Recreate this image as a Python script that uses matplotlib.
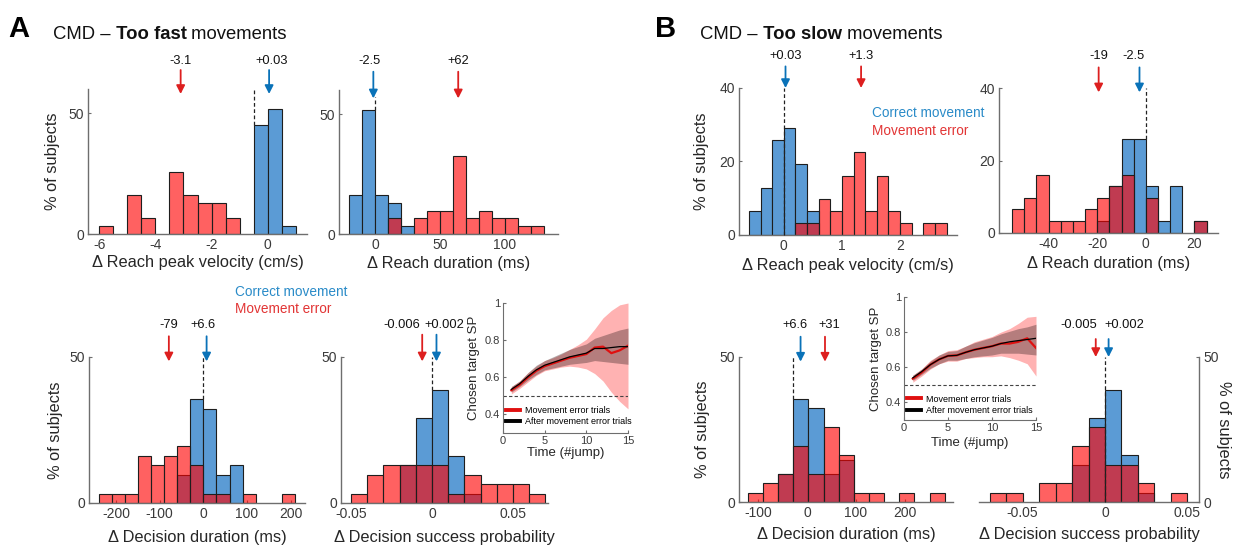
import matplotlib
matplotlib.use('Agg')
import matplotlib.pyplot as plt
from matplotlib.transforms import blended_transform_factory
from matplotlib.lines import Line2D

plt.rcParams['font.family'] = ['Liberation Sans', 'DejaVu Sans']
plt.rcParams['axes.unicode_minus'] = False

# ---------------- DATA (percent of subjects per bin) ----------------
# Panel A : too fast movements
a_vel_left = [-6.0, -5.5, -5.0, -4.5, -4.0, -3.5, -3.0, -2.5, -2.0, -1.5, -1.0, -0.5, 0.0, 0.5]
a_vel_blue = [0, 0, 0, 0, 0, 0, 0, 0, 0, 0, 0, 45.2, 51.6, 3.2]
a_vel_red = [3.2, 0, 16.1, 6.5, 0, 25.8, 16.1, 12.9, 12.9, 6.5, 0, 0, 0, 0]

a_dur_left = [-20, -10, 0, 10, 20, 30, 40, 50, 60, 70, 80, 90, 100, 110, 120]
a_dur_blue = [16.1, 51.6, 16.1, 12.9, 3.2, 0, 0, 0, 0, 0, 0, 0, 0, 0, 0]
a_dur_red = [0, 0, 0, 6.5, 0, 6.5, 9.7, 9.7, 32.3, 6.5, 9.7, 6.5, 6.5, 3.2, 3.2]

a_dec_left = [-240, -210, -180, -150, -120, -90, -60, -30, 0, 30, 60, 90, 120, 150, 180]
a_dec_blue = [0, 0, 0, 0, 0, 0, 9.7, 35.5, 32.3, 9.7, 12.9, 0, 0, 0, 0]
a_dec_red = [3.2, 3.2, 3.2, 16.1, 12.9, 16.1, 19.4, 12.9, 3.2, 3.2, 0, 3.2, 0, 0, 3.2]

a_sp_left = [-0.05, -0.04, -0.03, -0.02, -0.01, 0.0, 0.01, 0.02, 0.03, 0.04, 0.05, 0.06]
a_sp_blue = [0, 0, 0, 12.9, 29.0, 38.7, 16.1, 3.2, 0, 0, 0, 0]
a_sp_red = [3.2, 9.7, 12.9, 12.9, 12.9, 12.9, 3.2, 9.7, 6.5, 6.5, 6.5, 3.2]

# Panel B : too slow movements
b_vel_left = [-0.6, -0.4, -0.2, 0.0, 0.2, 0.4, 0.6, 0.8, 1.0, 1.2, 1.4, 1.6, 1.8, 2.0, 2.2, 2.4, 2.6]
b_vel_blue = [6.5, 12.9, 25.8, 29.0, 19.4, 6.5, 0, 0, 0, 0, 0, 0, 0, 0, 0, 0, 0]
b_vel_red = [0, 0, 0, 0, 3.2, 3.2, 9.7, 6.5, 16.1, 22.6, 6.5, 16.1, 6.5, 3.2, 0, 3.2, 3.2]

b_dur_left = [-55, -50, -45, -40, -35, -30, -25, -20, -15, -10, -5, 0, 5, 10, 15, 20]
b_dur_blue = [0, 0, 0, 0, 0, 0, 0, 3.2, 12.9, 25.8, 25.8, 12.9, 3.2, 12.9, 0, 3.2]
b_dur_red = [6.5, 9.7, 16.1, 3.2, 3.2, 3.2, 6.5, 9.7, 12.9, 16.1, 0, 9.7, 0, 0, 0, 3.2]

b_dec_left = [-121, -90, -59, -28, 3, 34, 65, 96, 127, 158, 189, 220, 251]
b_dec_blue = [0, 0, 9.7, 35.5, 32.3, 9.7, 14.5, 0, 0, 0, 0, 0, 0]
b_dec_red = [3.2, 6.5, 9.7, 19.4, 9.7, 25.8, 16.1, 3.2, 3.2, 0, 3.2, 0, 3.2]

b_sp_left = [-0.07, -0.06, -0.05, -0.04, -0.03, -0.02, -0.01, 0.0, 0.01, 0.02, 0.03, 0.04]
b_sp_blue = [0, 0, 0, 0, 0, 12.9, 29.0, 38.7, 16.1, 3.2, 0, 0]
b_sp_red = [3.2, 3.2, 0, 6.5, 6.5, 19.4, 25.8, 12.9, 12.9, 6.5, 0, 3.2]

# Insets: chosen target success probability over time
t_jump = [1, 2, 3, 4, 5, 6, 7, 8, 9, 10, 11, 12, 13, 14, 15]
a_err_mean = [0.53, 0.56, 0.60, 0.635, 0.66, 0.675, 0.69, 0.705, 0.715, 0.725, 0.76, 0.765, 0.73, 0.745, 0.77]
a_err_lo = [0.51, 0.54, 0.575, 0.61, 0.635, 0.645, 0.655, 0.66, 0.655, 0.645, 0.62, 0.58, 0.52, 0.47, 0.43]
a_err_hi = [0.55, 0.58, 0.625, 0.66, 0.69, 0.705, 0.725, 0.75, 0.775, 0.805, 0.86, 0.92, 0.96, 0.99, 1.0]
a_aft_mean = [0.535, 0.565, 0.605, 0.64, 0.665, 0.68, 0.695, 0.71, 0.72, 0.73, 0.755, 0.755, 0.76, 0.765, 0.765]
a_aft_lo = [0.52, 0.55, 0.585, 0.615, 0.64, 0.65, 0.66, 0.67, 0.675, 0.68, 0.69, 0.685, 0.68, 0.675, 0.67]
a_aft_hi = [0.55, 0.58, 0.625, 0.665, 0.69, 0.71, 0.73, 0.75, 0.765, 0.78, 0.81, 0.825, 0.84, 0.855, 0.865]

b_err_mean = [0.535, 0.57, 0.615, 0.645, 0.665, 0.668, 0.685, 0.70, 0.71, 0.72, 0.735, 0.735, 0.745, 0.765, 0.71]
b_err_lo = [0.515, 0.55, 0.59, 0.62, 0.635, 0.635, 0.65, 0.655, 0.66, 0.66, 0.665, 0.655, 0.64, 0.62, 0.55]
b_err_hi = [0.555, 0.59, 0.64, 0.67, 0.695, 0.70, 0.72, 0.745, 0.76, 0.775, 0.80, 0.82, 0.85, 0.885, 0.89]
b_aft_mean = [0.54, 0.575, 0.615, 0.645, 0.665, 0.668, 0.685, 0.70, 0.71, 0.72, 0.735, 0.745, 0.752, 0.758, 0.765]
b_aft_lo = [0.525, 0.56, 0.595, 0.62, 0.64, 0.64, 0.65, 0.66, 0.665, 0.67, 0.68, 0.68, 0.68, 0.675, 0.67]
b_aft_hi = [0.555, 0.59, 0.635, 0.67, 0.69, 0.695, 0.72, 0.74, 0.755, 0.77, 0.79, 0.805, 0.82, 0.83, 0.845]

# ---------------- STYLE ----------------
W, H = 1233, 549
BLUE = '#5B9BD5'
RED = (1.0, 0.0, 0.0, 0.62)
EDGE = '#1e1e1e'
ARROW_BLUE = '#0A72B8'
ARROW_RED = '#DD1F1F'
TXT = '#262626'
TICK = '#3a3a3a'
SPINE = '#6e6e6e'
LEG_BLUE = '#2A8BC8'
LEG_RED = '#E23535'

fig = plt.figure(figsize=(W / 100, H / 100), dpi=100)


def px_axes(l, r, t, b):
    return fig.add_axes([l / W, 1 - b / H, (r - l) / W, (b - t) / H])


def hist(ax, left, blue, red):
    width = round(left[1] - left[0], 6)
    for vals, fc in ((blue, BLUE), (red, RED)):
        xs = [l for l, v in zip(left, vals) if v > 0]
        hs = [v for v in vals if v > 0]
        ax.bar(xs, hs, width=width, align='edge', color=fc, edgecolor=EDGE, linewidth=0.8, zorder=2)


def style(ax, xlim, ylim, xticks, xticklabels, yticks, xlabel, ylabel=None,
          xlab_y=-0.2, ylab_x=-0.16, right=False):
    ax.set_xlim(*xlim)
    ax.set_ylim(*ylim)
    ax.set_xticks(xticks)
    ax.set_xticklabels(xticklabels)
    ax.set_yticks(yticks)
    for s in ax.spines.values():
        s.set_color(SPINE)
        s.set_linewidth(1.0)
    ax.spines['top'].set_visible(False)
    if right:
        ax.spines['left'].set_visible(False)
        ax.yaxis.tick_right()
        ax.yaxis.set_label_position('right')
    else:
        ax.spines['right'].set_visible(False)
    ax.tick_params(labelsize=10, direction='in', length=2.5, color=SPINE,
                   labelcolor=TICK, pad=3)
    ax.set_facecolor('none')
    ax.set_xlabel(xlabel, fontsize=11.8, color=TXT, va='center')
    ax.xaxis.set_label_coords(0.5, xlab_y)
    if ylabel:
        ax.set_ylabel(ylabel, fontsize=11.8, color=TXT, va='center',
                      rotation=(-90 if right else 90))
        ax.yaxis.set_label_coords(ylab_x, 0.5)


def arrows(ax, items, tip, top, lab):
    tr = blended_transform_factory(ax.transData, ax.transAxes)
    for x, col, label, dx in items:
        ax.annotate('', xy=(x, tip), xycoords=tr, xytext=(x, top), textcoords=tr,
                    arrowprops=dict(arrowstyle='-|>,head_length=0.55,head_width=0.28',
                                    color=col, lw=1.3, shrinkA=0, shrinkB=0,
                                    mutation_scale=9), annotation_clip=False)
        ax.annotate(label, xy=(x, lab), xycoords=tr, xytext=(dx * 0.72, 0),
                    textcoords='offset points', ha='center', va='center',
                    fontsize=9.3, color='#111111', annotation_clip=False)


def dashed(ax, x, y0, y1):
    ax.plot([x, x], [y0, y1], color='#222222', lw=0.9, ls=(0, (3, 2)), zorder=3, clip_on=False)


def inset(ax, err_mean, err_lo, err_hi, aft_mean, aft_lo, aft_hi, xlab_y, ylab_x, leg_y):
    ax.fill_between(t_jump, err_lo, err_hi, color=(1.0, 0.0, 0.0, 0.30), lw=0)
    ax.fill_between(t_jump, aft_lo, aft_hi, color=(0.2, 0.12, 0.12, 0.36), lw=0)
    ax.axhline(0.5, color='#444444', lw=0.8, ls=(0, (3, 2)))
    ax.plot(t_jump, err_mean, color='#E01010', lw=1.6)
    ax.plot(t_jump, aft_mean, color='black', lw=0.9)
    ax.set_xlim(0, 15)
    ax.set_ylim(0.3, 1.0)
    ax.set_xticks([0, 5, 10, 15])
    ax.set_yticks([0.4, 0.6, 0.8, 1.0])
    ax.set_yticklabels(['0.4', '0.6', '0.8', '1'])
    for s in ax.spines.values():
        s.set_color(SPINE)
    ax.spines['top'].set_visible(False)
    ax.spines['right'].set_visible(False)
    ax.tick_params(labelsize=8, direction='in', length=2, color=SPINE, labelcolor=TICK, pad=2)
    ax.set_facecolor('none')
    ax.set_xlabel('Time (#jump)', fontsize=9.5, color=TXT, va='center')
    ax.xaxis.set_label_coords(0.5, xlab_y)
    ax.set_ylabel('Chosen target SP', fontsize=9.5, color=TXT, va='center')
    ax.yaxis.set_label_coords(ylab_x, 0.5)
    handles = [Line2D([], [], color='#E01010', lw=2.8), Line2D([], [], color='black', lw=2.8)]
    ax.legend(handles, ['Movement error trials', 'After movement error trials'],
              loc='lower left', bbox_to_anchor=(0.0, leg_y), frameon=False,
              fontsize=6.5, handlelength=1.6, handletextpad=0.5, labelspacing=0.25,
              borderpad=0.1, borderaxespad=0.2)


# ---------------- PANEL A ----------------
ax = px_axes(88, 307, 89, 234)
hist(ax, a_vel_left, a_vel_blue, a_vel_red)
style(ax, (-6.4, 1.4), (0, 60), [-6, -4, -2, 0], ['-6', '-4', '-2', '0'], [0, 50],
      'Δ Reach peak velocity (cm/s)', '% of subjects', xlab_y=-0.198, ylab_x=-0.16)
dashed(ax, -0.5, 45.2, 60)
arrows(ax, [(-3.1, ARROW_RED, '-3.1', 0), (0.05, ARROW_BLUE, '+0.03', 2.4)], 0.966, 1.131, 1.195)

ax = px_axes(339, 558, 90, 234)
hist(ax, a_dur_left, a_dur_blue, a_dur_red)
style(ax, (-28, 141), (0, 60), [0, 50, 100], ['0', '50', '100'], [0, 50],
      'Δ Reach duration (ms)', None, xlab_y=-0.208)
dashed(ax, 0, 51.6, 57)
arrows(ax, [(-1.5, ARROW_BLUE, '-2.5', -4), (64, ARROW_RED, '+62', 0)], 0.942, 1.127, 1.204)

ax = px_axes(89, 305, 357, 503)
hist(ax, a_dec_left, a_dec_blue, a_dec_red)
style(ax, (-262, 233), (0, 50), [-200, -100, 0, 100, 200], ['-200', '-100', '0', '100', '200'],
      [0, 50], 'Δ Decision duration (ms)', '% of subjects', xlab_y=-0.234, ylab_x=-0.157)
dashed(ax, 0, 35.5, 50)
arrows(ax, [(-79, ARROW_RED, '-79', 0), (7.5, ARROW_BLUE, '+6.6', -3.4)], 0.97, 1.142, 1.218)
fig.text(235 / W, 1 - 291.7 / H, 'Correct movement', color=LEG_BLUE, fontsize=9.8, va='center')
fig.text(235 / W, 1 - 309 / H, 'Movement error', color=LEG_RED, fontsize=9.8, va='center')

ax = px_axes(341, 548, 357, 503)
hist(ax, a_sp_left, a_sp_blue, a_sp_red)
style(ax, (-0.0561, 0.0716), (0, 50), [-0.05, 0, 0.05], ['-0.05', '0', '0.05'], [0, 50],
      'Δ Decision success probability', None, xlab_y=-0.234)
dashed(ax, 0, 38.7, 50)
arrows(ax, [(-0.006, ARROW_RED, '-0.006', -20.6), (0.0028, ARROW_BLUE, '+0.002', 8.3)],
       0.97, 1.153, 1.218)

ax = px_axes(503, 628, 303, 433)
inset(ax, a_err_mean, a_err_lo, a_err_hi, a_aft_mean, a_aft_lo, a_aft_hi, -0.154, -0.235, 0.03)

# ---------------- PANEL B ----------------
ax = px_axes(739, 957, 88, 235)
hist(ax, b_vel_left, b_vel_blue, b_vel_red)
style(ax, (-0.77, 2.98), (0, 40), [0, 1, 2], ['0', '1', '2'], [0, 20, 40],
      'Δ Reach peak velocity (cm/s)', '% of subjects', xlab_y=-0.205, ylab_x=-0.17)
dashed(ax, 0, 0, 40)
arrows(ax, [(0.03, ARROW_BLUE, '+0.03', 0), (1.33, ARROW_RED, '+1.3', 0)], 1.0, 1.147, 1.22)
fig.text(872 / W, 1 - 112.7 / H, 'Correct movement', color=LEG_BLUE, fontsize=9.8, va='center')
fig.text(872 / W, 1 - 130.7 / H, 'Movement error', color=LEG_RED, fontsize=9.8, va='center')

ax = px_axes(999, 1218, 88, 233)
hist(ax, b_dur_left, b_dur_blue, b_dur_red)
style(ax, (-60.4, 29.7), (0, 40), [-40, -20, 0, 20], ['-40', '-20', '0', '20'], [0, 20, 40],
      'Δ Reach duration (ms)', None, xlab_y=-0.21)
dashed(ax, 0, 25.8, 40)
arrows(ax, [(-19.4, ARROW_RED, '-19', 0), (-2.6, ARROW_BLUE, '-2.5', -6)], 0.97, 1.142, 1.223)

ax = px_axes(739, 953, 357, 502)
hist(ax, b_dec_left, b_dec_blue, b_dec_red)
style(ax, (-139, 299), (0, 50), [-100, 0, 100, 200], ['-100', '0', '100', '200'], [0, 50],
      'Δ Decision duration (ms)', '% of subjects', xlab_y=-0.225, ylab_x=-0.171)
dashed(ax, -28, 35.5, 50)
arrows(ax, [(-13, ARROW_BLUE, '+6.6', -5.7), (37, ARROW_RED, '+31', 4.7)], 0.968, 1.14, 1.218)

ax = px_axes(979, 1199, 357, 502)
hist(ax, b_sp_left, b_sp_blue, b_sp_red)
style(ax, (-0.0765, 0.0571), (0, 50), [-0.05, 0, 0.05], ['-0.05', '0', '0.05'], [0, 50],
      'Δ Decision success probability', '% of subjects', xlab_y=-0.225, ylab_x=1.112, right=True)
dashed(ax, 0, 0, 50)
arrows(ax, [(-0.0056, ARROW_RED, '-0.005', -17), (0.0022, ARROW_BLUE, '+0.002', 16)],
       1.0, 1.124, 1.218)

ax = px_axes(904, 1036, 297, 420)
inset(ax, b_err_mean, b_err_lo, b_err_hi, b_aft_mean, b_aft_lo, b_aft_hi, -0.19, -0.21, 0.02)

# ---------------- TITLES ----------------
renderer = fig.canvas.get_renderer()


def mixed_text(x_px, y_px, parts, size):
    x = x_px
    for s, w in parts:
        t = fig.text(x / W, 1 - y_px / H, s, fontsize=size, fontweight=w,
                     va='baseline', ha='left', color='#111111')
        x += t.get_window_extent(renderer=renderer).width


fig.text(8 / W, 1 - 37 / H, 'A', fontsize=21, fontweight='bold', va='baseline', color='black')
fig.text(655 / W, 1 - 37 / H, 'B', fontsize=21, fontweight='bold', va='baseline', color='black')
mixed_text(53, 39, [('CMD –', 'normal'), (' Too fast', 'bold'), (' movements', 'normal')], 13.3)
mixed_text(700, 39, [('CMD –', 'normal'), (' Too slow', 'bold'), (' movements', 'normal')], 13.3)

fig.savefig('out.png', dpi=100)
